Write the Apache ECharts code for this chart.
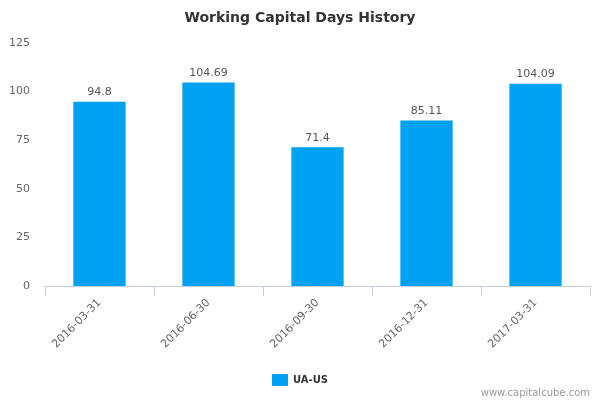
<!DOCTYPE html>
<html>
<head>
	<meta charset="utf-8">
	<title>Working Capital Days History</title>
	<script src="https://cdn.jsdelivr.net/npm/echarts@6/dist/echarts.min.js"></script>
	<style>
		html, body { margin: 0; padding: 0; background: #fff; }
	</style>
</head>
<body>
	<div id="main" style="width: 600px;height: 400px;"></div>
<script type="text/javascript">
	var dates = ['2016-03-31', '2016-06-30', '2016-09-30', '2016-12-31', '2017-03-31'];
	var values = [94.8, 104.69, 71.4, 85.11, 104.09];
	var seriesName = 'UA-US';

	var myChart = echarts.init(document.getElementById('main'));
	var option = {
		textStyle: { fontFamily: 'DejaVu Sans' },
		title: {
			text: 'Working Capital Days History',
			left: 'center',
			top: 6,
			textStyle: { fontSize: 14, fontWeight: 'bold', color: '#333', fontFamily: 'DejaVu Sans' }
		},
		grid: { left: 45, right: 10, top: 43, bottom: 114, containLabel: false },
		legend: {
			data: [seriesName],
			bottom: 9,
			left: 'center',
			itemWidth: 16,
			itemHeight: 12,
			icon: 'rect',
			textStyle: { fontSize: 10, fontWeight: 'bold', color: '#333' }
		},
		xAxis: {
			type: 'category',
			data: dates,
			axisLine: { lineStyle: { color: '#C0D0E0' } },
			axisTick: { show: true, length: 10, lineStyle: { color: '#C0D0E0' } },
			axisLabel: { rotate: 45, color: '#666', fontSize: 11, margin: 15 }
		},
		yAxis: {
			type: 'value',
			min: 0,
			max: 125,
			interval: 25,
			axisLine: { show: false },
			axisTick: { show: false },
			splitLine: { show: false },
			axisLabel: { color: '#666', fontSize: 11, margin: 15 }
		},
		series: [{
			name: seriesName,
			type: 'bar',
			data: values,
			barWidth: '48%',
			itemStyle: { color: '#01A1F1' },
			label: { show: true, position: 'top', color: '#555', fontSize: 11, distance: 4 }
		}],
		graphic: [{
			type: 'text',
			right: 10,
			bottom: 2,
			style: { text: 'www.capitalcube.com', fill: '#999', fontSize: 10, fontFamily: 'DejaVu Sans' }
		}]
	};
	myChart.setOption(option);
</script>
</body>
</html>
